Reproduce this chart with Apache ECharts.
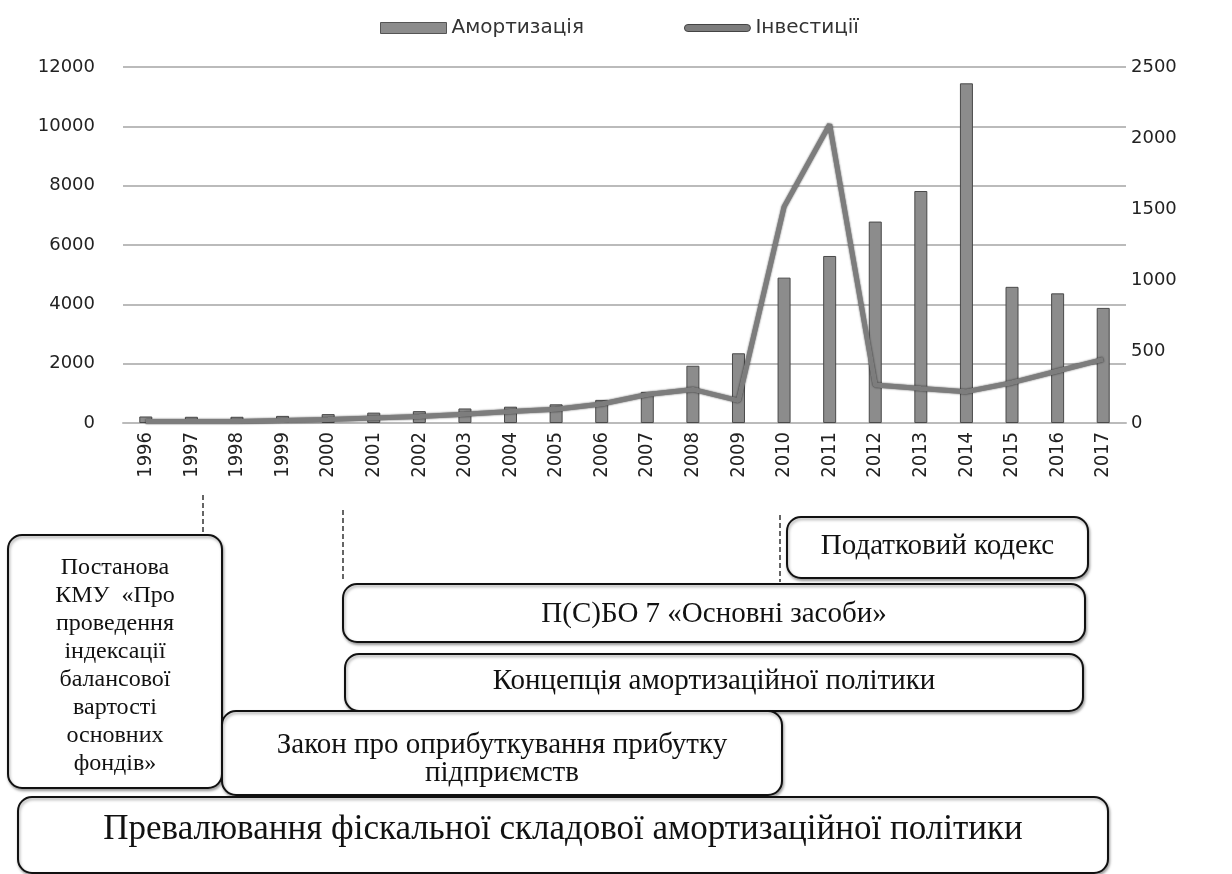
<!DOCTYPE html>
<html>
<head>
<meta charset="utf-8">
<script src="https://cdn.jsdelivr.net/npm/echarts@6/dist/echarts.min.js"></script>
<style>
  html, body { margin: 0; padding: 0; background: #fff; }
  #chart { width: 1232px; height: 874px; }
</style>
</head>
<body>
<div id="chart"></div>
<script>
// years on the x axis
const years = ["1996", "1997", "1998", "1999", "2000", "2001", "2002", "2003", "2004", "2005", "2006",
  "2007", "2008", "2009", "2010", "2011", "2012", "2013", "2014", "2015", "2016", "2017"];
// Амортизація (left axis)
const amortization = [220, 210, 210, 240, 300, 350, 400, 490, 550, 630, 780,
  1050, 1930, 2350, 4900, 5630, 6790, 7820, 11450, 4590, 4370, 3880];
// Інвестиції (right axis)
const investments = [10, 10, 10, 18, 25, 35, 45, 62, 80, 96, 133,
  200, 236, 157, 1518, 2097, 267, 243, 220, 283, 365, 447];
const leftTicks = { min: 0, max: 12000, interval: 2000 };
const rightTicks = { min: 0, max: 2500, interval: 500 };

const serif = "'Liberation Serif', 'DejaVu Serif', serif";
const chart = echarts.init(document.getElementById("chart"));

// rounded box with centred text (dy nudges the text down)
function box(x, y, w, h, text, fontSize, lineHeight, dy) {
  return {
    type: "group",
    children: [
      {
        type: "rect",
        shape: { x: x, y: y, width: w, height: h, r: 14 },
        style: {
          fill: "#fff",
          stroke: "#111",
          lineWidth: 2,
          shadowColor: "rgba(0,0,0,0.35)",
          shadowBlur: 3,
          shadowOffsetX: 1,
          shadowOffsetY: 2,
        },
      },
      {
        type: "text",
        style: {
          x: x + w / 2,
          y: y + h / 2 + (dy || 0),
          text: text,
          align: "center",
          verticalAlign: "middle",
          font: fontSize + "px " + serif,
          lineHeight: lineHeight || fontSize * 1.2,
          fill: "#111",
        },
      },
    ],
  };
}

function dashed(x, y1, y2) {
  return {
    type: "line",
    shape: { x1: x, y1: y1, x2: x, y2: y2 },
    style: { stroke: "#333", lineWidth: 1.5, lineDash: [5, 3] },
  };
}

const plain = (v) => String(v);

chart.setOption({
  animation: false,
  textStyle: { fontFamily: "'DejaVu Sans', sans-serif" },
  legend: {
    top: 13,
    left: 375,
    itemGap: 100,
    textStyle: { fontSize: 20, color: "#333" },
    data: [
      { name: "Амортизація", icon: "rect", itemStyle: { borderColor: "#555", borderWidth: 1 } },
      {
        name: "Інвестиції",
        icon: "path://M2,0 L44,0 A2,2 0 0 1 44,5 L2,5 A2,2 0 0 1 2,0 Z",
        itemStyle: { color: "#7d7d7d", borderColor: "#444", borderWidth: 1 },
      },
    ],
    itemWidth: 66,
    itemHeight: 11,
  },
  grid: { left: 123, right: 106, top: 67, bottom: 451 },
  xAxis: {
    type: "category",
    data: years,
    axisTick: { show: false },
    axisLine: { lineStyle: { color: "#bbb", width: 2 } },
    axisLabel: {
      rotate: 90,
      interval: 0,
      fontSize: 20,
      color: "#222",
      margin: 9,
      fontFamily: "'Liberation Sans Narrow', 'DejaVu Sans Condensed', sans-serif",
    },
  },
  yAxis: [
    {
      type: "value",
      min: leftTicks.min,
      max: leftTicks.max,
      interval: leftTicks.interval,
      axisLine: { show: false },
      axisTick: { show: false },
      splitLine: { lineStyle: { color: "#bbb", width: 2 } },
      axisLabel: { fontSize: 18, color: "#222", margin: 28, formatter: plain },
    },
    {
      type: "value",
      min: rightTicks.min,
      max: rightTicks.max,
      interval: rightTicks.interval,
      axisLine: { show: false },
      axisTick: { show: false },
      splitLine: { show: false },
      axisLabel: { fontSize: 18, color: "#222", margin: 5, formatter: plain },
    },
  ],
  series: [
    {
      name: "Амортизація",
      type: "bar",
      yAxisIndex: 0,
      data: amortization,
      barWidth: 13,
      itemStyle: { color: "#8c8c8c", borderColor: "#4a4a4a", borderWidth: 1 },
    },
    {
      name: "Інвестиції",
      type: "line",
      yAxisIndex: 1,
      data: investments,
      symbol: "none",
      lineStyle: {
        color: "#7d7d7d",
        width: 5,
        shadowColor: "rgba(0,0,0,0.7)",
        shadowBlur: 2,
      },
      itemStyle: { color: "#7d7d7d" },
    },
  ],
  graphic: [
    dashed(203, 495, 535),
    dashed(343, 510, 582),
    dashed(780, 515, 582),
    box(8, 535, 214, 253, "Постанова\nКМУ  «Про\nпроведення\nіндексації\nбалансової\nвартості\nосновних\nфондів»", 24, 28, 4),
    box(787, 517, 301, 61, "Податковий кодекс", 29, 0, -1),
    box(343, 584, 742, 58, "П(С)БО 7 «Основні засоби»", 29, 0, 1),
    box(345, 654, 738, 57, "Концепція амортизаційної політики", 29, 0, -1),
    box(222, 711, 560, 84, "Закон про оприбуткування прибутку\nпідприємств", 29, 28, 6),
    box(18, 797, 1090, 76, "Превалювання фіскальної складової амортизаційної політики", 35, 0, -5),
  ],
});
</script>
</body>
</html>
